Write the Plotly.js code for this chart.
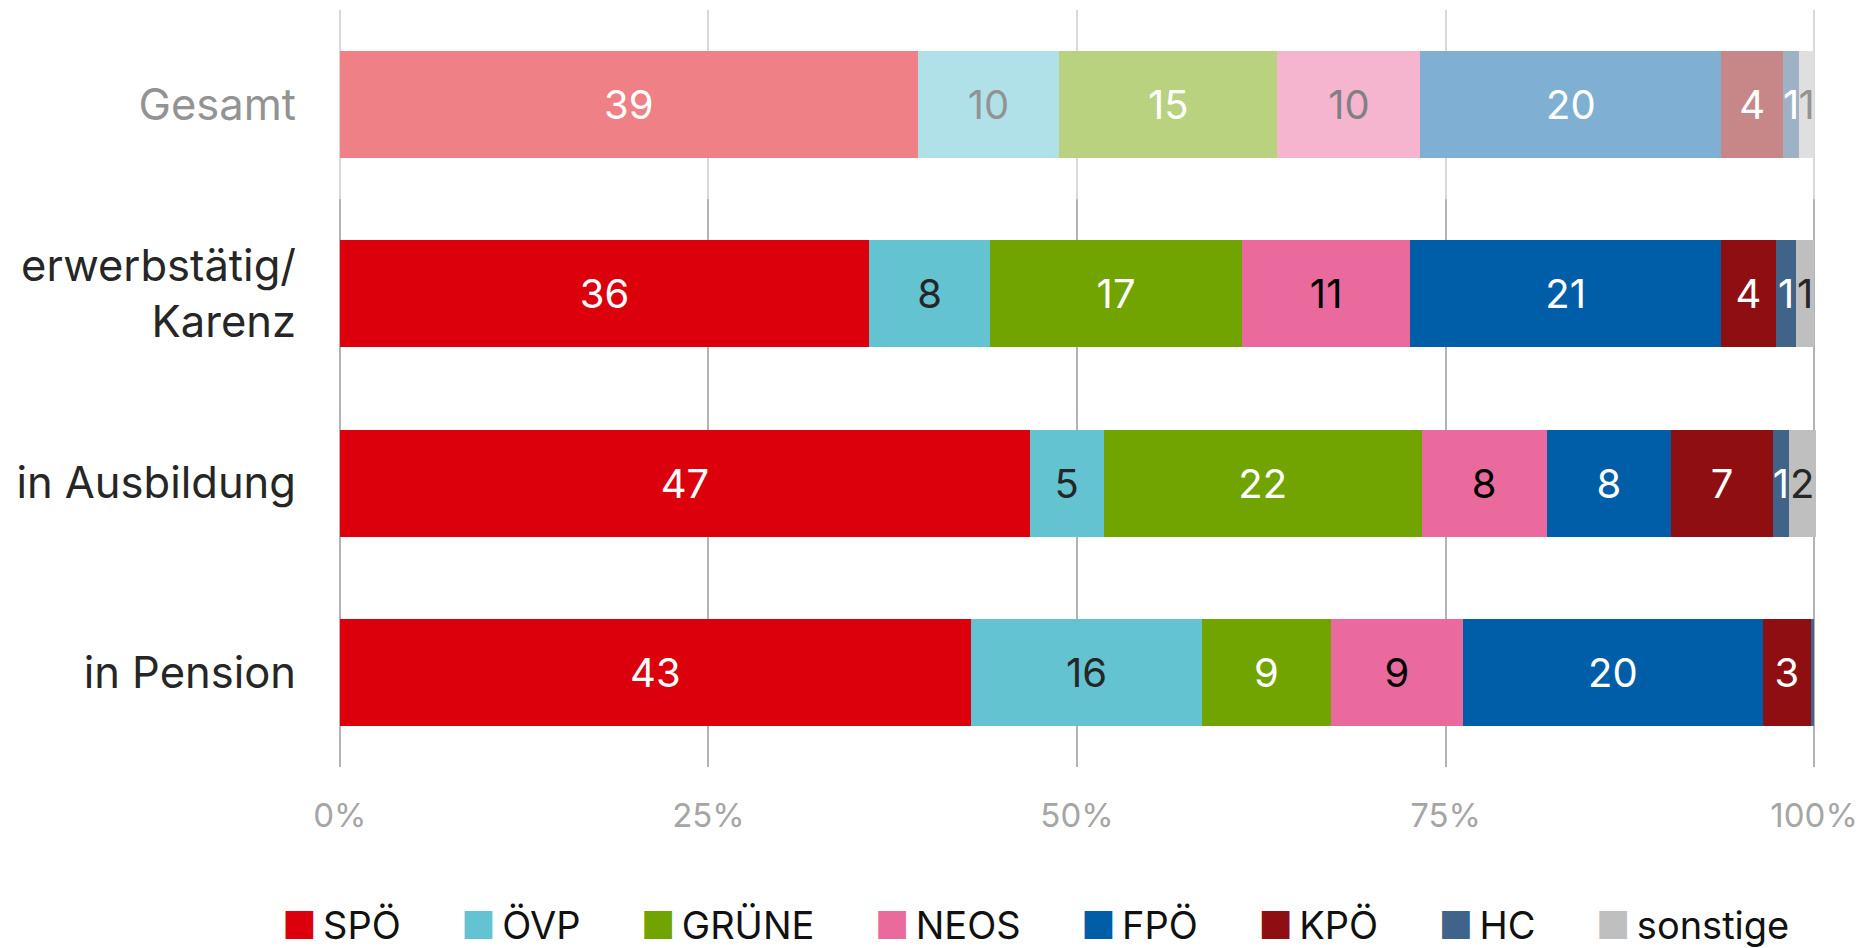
<!DOCTYPE html>
<html>
<head>
<meta charset="utf-8">
<script src="https://cdn.plot.ly/plotly-3.0.1.min.js"></script>
<style>html,body{margin:0;padding:0;background:#fff;}#chart{width:1865px;height:948px;}</style>
</head>
<body>
<div id="chart"></div>
<script>
// Categories (top to bottom)
const categories = ['Gesamt', 'erwerbstätig/<br>Karenz', 'in Ausbildung', 'in Pension'];
const categoryLabels = ['<span style="color:#939393">Gesamt</span>', 'erwerbstätig/<br>Karenz', 'in Ausbildung', 'in Pension'];

// Parties
const parties = ['SPÖ', 'ÖVP', 'GRÜNE', 'NEOS', 'FPÖ', 'KPÖ', 'HC', 'sonstige'];

// Shares in % per category (Gesamt, erwerbstätig/Karenz, in Ausbildung, in Pension)
const spo      = [39.2, 35.9, 46.8, 42.8];
const ovp      = [9.6, 8.2, 5.0, 15.7];
const gruene   = [14.8, 17.1, 21.6, 8.7];
const neos     = [9.7, 11.4, 8.45, 9.0];
const fpo      = [20.4, 21.1, 8.45, 20.3];
const kpo      = [4.2, 3.7, 6.9, 3.3];
const hc       = [1.1, 1.4, 1.1, 0.2];
const sonstige = [1.0, 1.2, 1.8, 0.0];

// X tick values
const xTicks = [0, 25, 50, 75, 100];

const seriesValues = [spo, ovp, gruene, neos, fpo, kpo, hc, sonstige];
const colors = ['#DC000C', '#63C3D1', '#72A400', '#EB6A9E', '#005EA8', '#8E0E12', '#3F6389', '#BFBFBF'];
const textColors = ['#ffffff', '#262626', '#ffffff', '#000000', '#ffffff', '#ffffff', '#ffffff', '#262626'];

const FONT = 'Inter, "Noto Sans", "DejaVu Sans", sans-serif';

const traces = parties.map((p, i) => ({
  type: 'bar',
  orientation: 'h',
  name: p,
  y: categories,
  x: seriesValues[i],
  text: seriesValues[i].map(v => Math.round(v) > 0 ? String(Math.round(v)) : ''),
  textposition: 'inside',
  insidetextanchor: 'middle',
  constraintext: 'none',
  textangle: 0,
  insidetextfont: {family: FONT, size: 40, color: textColors[i]},
  marker: {color: colors[i], line: {width: 0}},
  hoverinfo: 'name+x',
  showlegend: false
}));

const legendText = parties.map((p, i) =>
  '<span style="color:' + colors[i] + '">■</span>\u2006' + p
).join('\u00a0\u00a0\u00a0\u00a0\u00a0\u2009');

const layout = {
  width: 1865,
  height: 948,
  margin: {l: 334, r: 45, t: 10, b: 181},
  paper_bgcolor: '#ffffff',
  plot_bgcolor: '#ffffff',
  font: {family: FONT, color: '#262626'},
  barmode: 'stack',
  bargap: 0.434,
  showlegend: false,
  xaxis: {
    range: [-0.4, 100.4],
    tickmode: 'array',
    tickvals: xTicks,
    ticktext: xTicks.map(v => v + '%'),
    tickfont: {family: FONT, size: 33, color: '#a6a6a6'},
    showgrid: true,
    gridcolor: '#b3b3b3',
    gridwidth: 1.5,
    zeroline: false,
    showline: false,
    ticks: '',
    ticklabelstandoff: 26,
    fixedrange: true
  },
  yaxis: {
    type: 'category',
    categoryorder: 'array',
    categoryarray: categories,
    range: [3.5, -0.5],
    tickmode: 'array',
    tickvals: categories,
    ticktext: categoryLabels,
    tickfont: {family: FONT, size: 43.5, color: '#262626'},
    showgrid: false,
    zeroline: false,
    showline: false,
    ticks: '',
    ticklabelstandoff: 37,
    fixedrange: true
  },
  shapes: [{
    type: 'rect', xref: 'x', yref: 'y',
    x0: -0.4, x1: 100.4, y0: -0.5, y1: 0.5,
    fillcolor: 'rgba(255,255,255,0.5)',
    line: {width: 0},
    layer: 'above'
  }],
  annotations: [{
    xref: 'paper', yref: 'paper',
    x: 0.4724, y: -0.2087,
    xanchor: 'center', yanchor: 'middle',
    showarrow: false,
    text: legendText,
    font: {family: FONT, size: 38, color: '#111111'}
  }]
};

Plotly.newPlot('chart', traces, layout, {displayModeBar: false, responsive: false});
</script>
</body>
</html>
